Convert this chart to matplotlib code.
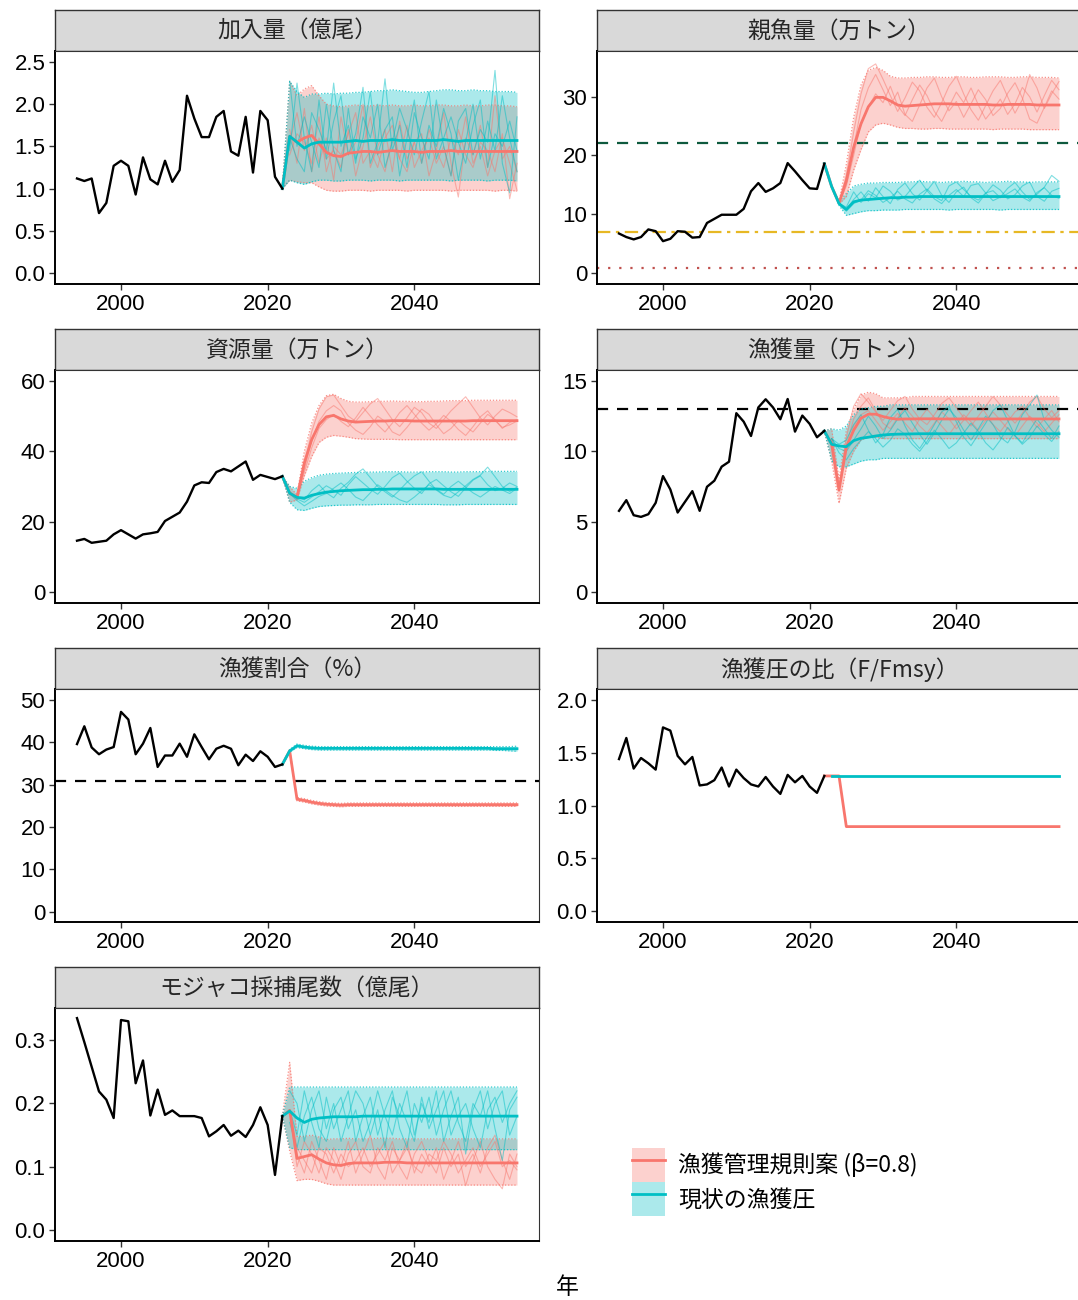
import numpy as np
import matplotlib
matplotlib.use('Agg')
import matplotlib.pyplot as plt
from matplotlib.patches import Patch
from matplotlib.lines import Line2D
from matplotlib.legend_handler import HandlerTuple
from matplotlib.ticker import FormatStrFormatter

plt.rcParams['font.family'] = ['Liberation Sans', 'Noto Sans CJK JP']
JP = ['Noto Sans CJK JP', 'DejaVu Sans']

RED = '#F8766D'
CYAN = '#00BFC4'

# ---- historical values (1994-2022) ----
hist_years = np.arange(1994, 2023)
rec_hist = [1.12, 1.09, 1.12, 0.71, 0.83, 1.27, 1.33, 1.27, 0.93, 1.37, 1.11, 1.05, 1.33, 1.08, 1.22,
            2.10, 1.83, 1.61, 1.61, 1.85, 1.92, 1.44, 1.39, 1.85, 1.19, 1.92, 1.81, 1.14, 1.00]
ssb_hist = [6.7, 6.1, 5.7, 6.1, 7.4, 7.1, 5.4, 5.8, 7.1, 7.0, 6.0, 6.1, 8.5, 9.2, 9.9,
            9.9, 9.9, 10.9, 13.9, 15.3, 13.8, 14.4, 15.3, 18.7, 17.3, 15.8, 14.4, 14.3, 18.6]
bio_hist = [14.6, 15.1, 14.0, 14.3, 14.6, 16.4, 17.6, 16.4, 15.2, 16.4, 16.7, 17.1, 20.2, 21.4, 22.6,
            25.7, 30.3, 31.2, 31.0, 34.1, 35.0, 34.3, 35.7, 37.1, 31.9, 33.3, 32.7, 32.1, 32.9]
catch_hist = [5.77, 6.53, 5.46, 5.34, 5.53, 6.34, 8.24, 7.29, 5.65, 6.41, 7.17, 5.77, 7.48, 7.91, 8.91,
              9.26, 12.71, 12.11, 11.09, 13.12, 13.70, 13.12, 12.28, 13.72, 11.40, 12.54, 11.95, 11.00, 11.45]
rate_hist = [39.6, 43.8, 38.8, 37.2, 38.3, 38.9, 47.2, 45.4, 37.2, 39.7, 43.4, 34.2, 36.9, 36.9, 39.7,
             36.6, 41.9, 38.9, 36.0, 38.5, 39.2, 38.5, 34.6, 37.1, 35.6, 37.9, 36.6, 34.2, 34.8]
f_hist = [1.44, 1.64, 1.35, 1.45, 1.40, 1.34, 1.74, 1.71, 1.47, 1.39, 1.46, 1.19, 1.20, 1.24, 1.36,
          1.18, 1.34, 1.26, 1.20, 1.18, 1.27, 1.18, 1.11, 1.29, 1.22, 1.28, 1.18, 1.12, 1.28]
moj_hist = [0.335, 0.297, 0.258, 0.219, 0.206, 0.177, 0.332, 0.330, 0.232, 0.268, 0.181, 0.222, 0.182, 0.189, 0.180,
            0.180, 0.180, 0.177, 0.148, 0.156, 0.166, 0.149, 0.157, 0.147, 0.166, 0.194, 0.166, 0.087, 0.180]

# ---- projections: median / lower / upper, 2022-2054 ----
# 加入量
rec_cur_med = [1.00, 1.62, 1.55, 1.48, 1.53, 1.55, 1.55, 1.55, 1.55, 1.56,
               1.57, 1.56, 1.57, 1.57, 1.57, 1.58, 1.57, 1.57, 1.57, 1.57,
               1.57, 1.57, 1.58, 1.57, 1.56, 1.57, 1.57, 1.57, 1.57, 1.57,
               1.57, 1.57, 1.57]
rec_cur_hi = [1.00, 2.27, 2.15, 2.08, 2.12, 2.12, 2.13, 2.12, 2.13, 2.13,
              2.14, 2.14, 2.15, 2.16, 2.16, 2.17, 2.16, 2.15, 2.14, 2.14,
              2.15, 2.16, 2.17, 2.17, 2.16, 2.16, 2.17, 2.16, 2.16, 2.15,
              2.15, 2.15, 2.14]
rec_cur_lo = [1.00, 1.10, 1.07, 1.05, 1.08, 1.10, 1.10, 1.09, 1.09, 1.10,
              1.10, 1.10, 1.09, 1.10, 1.10, 1.10, 1.09, 1.10, 1.10, 1.10,
              1.10, 1.10, 1.10, 1.09, 1.10, 1.10, 1.10, 1.10, 1.09, 1.10,
              1.10, 1.10, 1.09]
rec_rule_med = [1.00, 1.62, 1.55, 1.60, 1.63, 1.53, 1.43, 1.39, 1.38, 1.42,
                1.43, 1.44, 1.44, 1.43, 1.44, 1.45, 1.44, 1.44, 1.44, 1.43,
                1.44, 1.44, 1.44, 1.45, 1.44, 1.44, 1.44, 1.44, 1.44, 1.44,
                1.44, 1.44, 1.44]
rec_rule_hi = [1.00, 2.27, 2.10, 2.18, 2.22, 2.10, 2.00, 1.98, 1.97, 1.98,
               1.99, 1.98, 1.98, 1.99, 1.98, 1.99, 1.98, 1.98, 1.99, 1.98,
               1.98, 1.99, 1.99, 1.98, 1.98, 1.99, 1.98, 1.98, 1.99, 1.99,
               1.98, 1.98, 1.97]
rec_rule_lo = [1.00, 1.10, 1.08, 1.07, 1.07, 1.02, 0.98, 0.97, 0.97, 0.98,
               0.98, 0.98, 0.97, 0.98, 0.98, 0.98, 0.98, 0.97, 0.98, 0.98,
               0.98, 0.98, 0.98, 0.97, 0.98, 0.98, 0.98, 0.98, 0.98, 0.97,
               0.98, 0.98, 0.97]

# 親魚量
ssb_cur_med = [18.6, 14.7, 11.8, 10.8, 12.1, 12.4, 12.5, 12.6, 12.7, 12.8,
               12.8, 12.9, 12.9, 13.0, 13.0, 13.0, 13.0, 13.0, 13.0, 13.0,
               13.0, 13.0, 13.0, 13.0, 13.0, 13.0, 13.0, 13.0, 13.0, 13.0,
               13.0, 13.0, 13.0]
ssb_cur_hi = [18.6, 14.8, 12.2, 13.5, 14.8, 15.1, 15.3, 15.3, 15.4, 15.4,
              15.4, 15.5, 15.5, 15.6, 15.5, 15.5, 15.4, 15.5, 15.5, 15.6,
              15.5, 15.5, 15.4, 15.5, 15.5, 15.6, 15.5, 15.5, 15.4, 15.5,
              15.5, 15.5, 15.5]
ssb_cur_lo = [18.6, 14.6, 11.5, 9.8, 10.1, 10.4, 10.6, 10.6, 10.7, 10.7,
              10.7, 10.8, 10.8, 10.8, 10.8, 10.8, 10.8, 10.7, 10.8, 10.8,
              10.8, 10.8, 10.8, 10.8, 10.7, 10.8, 10.8, 10.8, 10.8, 10.8,
              10.8, 10.8, 10.8]
ssb_rule_med = [18.6, 14.7, 11.9, 15.7, 21.4, 25.4, 28.3, 29.9, 29.9, 29.3,
                28.6, 28.4, 28.5, 28.6, 28.7, 28.8, 28.8, 28.8, 28.7, 28.7,
                28.7, 28.7, 28.7, 28.6, 28.6, 28.7, 28.7, 28.7, 28.7, 28.6,
                28.6, 28.6, 28.6]
ssb_rule_hi = [18.6, 14.8, 12.1, 18.5, 26.5, 32.0, 34.5, 35.0, 34.5, 33.5,
               33.2, 33.2, 33.3, 33.3, 33.4, 33.4, 33.3, 33.3, 33.4, 33.4,
               33.3, 33.3, 33.4, 33.4, 33.4, 33.3, 33.3, 33.4, 33.4, 33.3,
               33.3, 33.3, 33.2]
ssb_rule_lo = [18.6, 14.6, 11.7, 13.0, 17.5, 21.0, 24.0, 25.2, 25.5, 25.2,
               24.8, 24.6, 24.6, 24.5, 24.5, 24.6, 24.6, 24.5, 24.5, 24.5,
               24.5, 24.5, 24.5, 24.4, 24.5, 24.5, 24.5, 24.5, 24.4, 24.4,
               24.4, 24.4, 24.4]

# 資源量
bio_cur_med = [32.9, 28.1, 26.9, 26.7, 27.5, 28.0, 28.4, 28.6, 28.8, 28.9,
               29.0, 29.1, 29.1, 29.2, 29.2, 29.3, 29.3, 29.3, 29.3, 29.3,
               29.3, 29.3, 29.2, 29.2, 29.2, 29.2, 29.2, 29.2, 29.2, 29.2,
               29.2, 29.2, 29.2]
bio_cur_hi = [32.9, 30.0, 29.5, 31.5, 32.5, 33.2, 33.5, 33.7, 33.8, 33.9,
              34.0, 34.0, 34.1, 34.1, 34.2, 34.2, 34.2, 34.1, 34.1, 34.1,
              34.2, 34.2, 34.2, 34.1, 34.1, 34.2, 34.2, 34.2, 34.3, 34.3,
              34.3, 34.3, 34.3]
bio_cur_lo = [32.9, 25.5, 23.4, 23.2, 23.8, 24.3, 24.5, 24.6, 24.7, 24.7,
              24.8, 24.8, 24.8, 24.9, 24.9, 24.9, 24.9, 24.9, 24.9, 24.9,
              24.9, 24.9, 24.8, 24.8, 24.8, 24.9, 24.9, 24.9, 24.9, 24.9,
              24.9, 24.9, 24.9]
bio_rule_med = [32.9, 28.1, 26.9, 36.7, 43.3, 47.6, 49.8, 50.2, 49.2, 48.6,
                48.3, 48.4, 48.5, 48.6, 48.6, 48.7, 48.7, 48.7, 48.6, 48.6,
                48.6, 48.6, 48.6, 48.6, 48.6, 48.6, 48.7, 48.7, 48.7, 48.7,
                48.7, 48.7, 48.7]
bio_rule_hi = [32.9, 30.0, 27.6, 40.0, 48.0, 53.0, 55.8, 56.2, 55.0, 54.2,
               54.0, 54.0, 54.1, 54.2, 54.2, 54.3, 54.2, 54.2, 54.1, 54.1,
               54.2, 54.2, 54.3, 54.4, 54.4, 54.4, 54.5, 54.5, 54.5, 54.5,
               54.5, 54.5, 54.5]
bio_rule_lo = [32.9, 25.5, 26.2, 33.0, 38.5, 42.5, 44.0, 44.5, 44.3, 44.0,
               43.6, 43.5, 43.4, 43.4, 43.4, 43.4, 43.3, 43.3, 43.3, 43.3,
               43.3, 43.3, 43.3, 43.3, 43.3, 43.3, 43.3, 43.3, 43.3, 43.3,
               43.3, 43.3, 43.3]

# 漁獲量
catch_cur_med = [11.45, 10.50, 10.38, 10.33, 10.76, 10.93, 11.00, 11.09, 11.16, 11.20,
                 11.22, 11.23, 11.24, 11.25, 11.25, 11.25, 11.25, 11.25, 11.25, 11.25,
                 11.25, 11.25, 11.25, 11.25, 11.25, 11.25, 11.25, 11.25, 11.25, 11.25,
                 11.25, 11.25, 11.25]
catch_cur_hi = [11.45, 11.6, 11.5, 11.8, 12.6, 13.0, 13.1, 13.2, 13.2, 13.3,
                13.3, 13.3, 13.3, 13.3, 13.3, 13.3, 13.3, 13.3, 13.3, 13.3,
                13.3, 13.3, 13.3, 13.3, 13.3, 13.3, 13.3, 13.3, 13.3, 13.3,
                13.3, 13.3, 13.3]
catch_cur_lo = [11.45, 9.3, 8.9, 8.9, 9.1, 9.3, 9.4, 9.4, 9.5, 9.5,
                9.5, 9.5, 9.5, 9.5, 9.5, 9.5, 9.5, 9.5, 9.5, 9.5,
                9.5, 9.5, 9.5, 9.5, 9.5, 9.5, 9.5, 9.5, 9.5, 9.5,
                9.5, 9.5, 9.5]
catch_rule_med = [11.45, 10.50, 7.24, 10.30, 11.50, 12.35, 12.64, 12.64, 12.47, 12.35,
                  12.28, 12.30, 12.30, 12.31, 12.31, 12.31, 12.30, 12.30, 12.30, 12.30,
                  12.30, 12.30, 12.30, 12.30, 12.30, 12.30, 12.30, 12.30, 12.30, 12.30,
                  12.30, 12.30, 12.30]
catch_rule_hi = [11.45, 11.6, 8.0, 11.5, 13.0, 14.0, 14.2, 14.1, 13.8, 13.8,
                 13.8, 13.8, 13.9, 13.9, 13.9, 13.9, 13.9, 13.9, 13.9, 13.9,
                 13.9, 13.9, 13.9, 13.9, 13.9, 13.9, 13.9, 13.9, 13.9, 13.9,
                 13.9, 13.9, 13.9]
catch_rule_lo = [11.45, 9.3, 6.3, 8.8, 10.0, 10.8, 11.0, 11.0, 10.9, 10.9,
                 10.9, 10.9, 10.9, 10.9, 10.9, 10.9, 10.9, 10.9, 10.9, 10.9,
                 10.9, 10.9, 10.9, 10.9, 10.9, 10.9, 10.9, 10.9, 10.9, 10.9,
                 10.9, 10.9, 10.9]

# 漁獲割合
rate_cur_med = [34.8, 38.0, 39.2, 38.9, 38.7, 38.6, 38.6, 38.6, 38.6, 38.6,
                38.6, 38.6, 38.6, 38.6, 38.6, 38.6, 38.6, 38.6, 38.6, 38.6,
                38.6, 38.6, 38.6, 38.6, 38.6, 38.6, 38.6, 38.6, 38.6, 38.5,
                38.5, 38.5, 38.5]
rate_cur_hi = [34.8, 38.3, 39.6, 39.3, 39.1, 39.0, 39.0, 39.0, 39.0, 39.0,
               39.0, 39.0, 39.0, 39.0, 39.0, 39.0, 39.0, 39.0, 39.0, 39.0,
               39.0, 39.0, 39.0, 39.0, 39.0, 39.0, 39.0, 39.0, 39.0, 39.0,
               39.0, 39.0, 39.1]
rate_cur_lo = [34.8, 37.7, 38.8, 38.5, 38.3, 38.2, 38.2, 38.2, 38.2, 38.2,
               38.2, 38.2, 38.2, 38.2, 38.2, 38.2, 38.2, 38.2, 38.2, 38.2,
               38.2, 38.2, 38.2, 38.2, 38.2, 38.2, 38.2, 38.2, 38.2, 38.1,
               38.1, 38.0, 37.9]
rate_rule_med = [34.8, 38.0, 26.6, 26.3, 25.9, 25.6, 25.4, 25.3, 25.2, 25.3,
                 25.3, 25.3, 25.3, 25.3, 25.3, 25.3, 25.3, 25.3, 25.3, 25.3,
                 25.3, 25.3, 25.3, 25.3, 25.3, 25.3, 25.3, 25.3, 25.3, 25.3,
                 25.3, 25.3, 25.3]
rate_rule_hi = [34.8, 38.3, 27.0, 26.7, 26.3, 26.0, 25.8, 25.7, 25.6, 25.7,
                25.7, 25.7, 25.7, 25.7, 25.7, 25.7, 25.7, 25.7, 25.7, 25.7,
                25.7, 25.7, 25.7, 25.7, 25.7, 25.7, 25.7, 25.7, 25.7, 25.7,
                25.7, 25.7, 25.7]
rate_rule_lo = [34.8, 37.7, 26.2, 25.9, 25.5, 25.2, 25.0, 24.9, 24.8, 24.9,
                24.9, 24.9, 24.9, 24.9, 24.9, 24.9, 24.9, 24.9, 24.9, 24.9,
                24.9, 24.9, 24.9, 24.9, 24.9, 24.9, 24.9, 24.9, 24.9, 24.9,
                24.9, 24.9, 24.9]

# 漁獲圧の比 (current from 2023, rule from 2022)
f_cur = [1.28] * 32
f_rule = [1.28, 1.28, 1.28] + [0.80] * 30

# モジャコ採捕尾数
moj_cur_med = [0.180, 0.188, 0.177, 0.170, 0.175, 0.177, 0.178, 0.179, 0.179, 0.179,
               0.179, 0.180, 0.180, 0.180, 0.180, 0.180, 0.180, 0.180, 0.180, 0.180,
               0.180, 0.180, 0.180, 0.180, 0.180, 0.180, 0.180, 0.180, 0.180, 0.180,
               0.180, 0.180, 0.180]
moj_cur_hi = [0.180, 0.226, 0.226, 0.226, 0.226, 0.226, 0.226, 0.226, 0.226, 0.226,
              0.226, 0.226, 0.226, 0.226, 0.226, 0.226, 0.226, 0.226, 0.226, 0.226,
              0.226, 0.226, 0.226, 0.226, 0.226, 0.226, 0.226, 0.226, 0.226, 0.226,
              0.226, 0.226, 0.226]
moj_cur_lo = [0.180, 0.130, 0.127, 0.127, 0.127, 0.127, 0.127, 0.127, 0.127, 0.127,
              0.127, 0.127, 0.127, 0.127, 0.127, 0.127, 0.127, 0.127, 0.127, 0.127,
              0.127, 0.127, 0.127, 0.127, 0.127, 0.127, 0.127, 0.127, 0.127, 0.127,
              0.127, 0.127, 0.127]
moj_rule_med = [0.180, 0.189, 0.113, 0.116, 0.119, 0.112, 0.106, 0.103, 0.102, 0.105,
                0.106, 0.106, 0.106, 0.106, 0.107, 0.107, 0.107, 0.106, 0.106, 0.106,
                0.106, 0.106, 0.106, 0.106, 0.106, 0.106, 0.106, 0.106, 0.106, 0.106,
                0.106, 0.106, 0.106]
moj_rule_hi = [0.180, 0.265, 0.148, 0.148, 0.150, 0.147, 0.143, 0.144, 0.144, 0.145,
               0.144, 0.144, 0.144, 0.145, 0.145, 0.145, 0.144, 0.144, 0.144, 0.144,
               0.144, 0.144, 0.144, 0.144, 0.144, 0.144, 0.144, 0.144, 0.144, 0.144,
               0.144, 0.144, 0.144]
moj_rule_lo = [0.180, 0.125, 0.078, 0.080, 0.080, 0.077, 0.073, 0.071, 0.071, 0.071,
               0.071, 0.071, 0.071, 0.071, 0.071, 0.071, 0.071, 0.071, 0.071, 0.071,
               0.071, 0.071, 0.071, 0.071, 0.071, 0.071, 0.071, 0.071, 0.071, 0.071,
               0.071, 0.071, 0.071]

# ---- a few individual simulation runs, 2023-2054 ----
rec_cur_sims = [
    [1.45, 2.25, 1.60, 1.20, 2.05, 1.35, 1.80, 2.10, 1.40, 1.65, 2.20, 1.30, 1.55, 2.30, 1.45, 1.75,
     1.25, 1.90, 1.60, 1.35, 2.05, 1.50, 1.15, 1.80, 1.95, 1.40, 1.70, 1.55, 2.40, 1.30, 0.95, 1.85],
    [2.27, 1.50, 1.85, 1.55, 1.25, 2.00, 1.45, 1.20, 1.95, 1.35, 1.60, 2.15, 1.40, 1.70, 1.85, 1.15,
     1.60, 2.05, 1.30, 1.75, 1.50, 1.95, 1.65, 1.10, 1.55, 2.00, 1.35, 1.80, 1.45, 2.10, 1.60, 1.20],
    [1.60, 1.35, 1.20, 1.90, 1.70, 1.45, 2.25, 1.50, 1.75, 1.30, 1.85, 1.60, 2.00, 1.25, 1.55, 1.95,
     1.70, 1.40, 1.80, 2.15, 1.35, 1.60, 1.85, 1.55, 1.30, 1.75, 2.05, 1.25, 1.65, 1.50, 1.80, 1.45],
]
rec_rule_sims = [
    [1.55, 1.90, 1.45, 1.75, 1.30, 1.60, 1.10, 1.85, 1.40, 1.55, 2.00, 1.25, 1.50, 1.70, 1.20, 1.80,
     1.35, 1.55, 1.65, 1.15, 1.45, 1.90, 1.30, 0.90, 1.60, 1.40, 1.75, 1.25, 2.10, 1.35, 1.50, 1.20],
    [1.70, 1.30, 1.95, 1.20, 1.60, 1.35, 1.45, 1.25, 1.70, 1.15, 1.50, 1.85, 1.40, 1.20, 1.60, 1.35,
     1.75, 1.25, 1.45, 1.60, 1.30, 1.50, 1.15, 1.70, 1.40, 1.25, 1.55, 1.45, 1.20, 1.65, 0.88, 1.30],
    [1.40, 1.65, 1.55, 1.30, 1.85, 1.20, 1.50, 1.40, 1.65, 1.90, 1.30, 1.45, 1.25, 1.60, 1.75, 1.35,
     1.20, 1.55, 1.30, 1.70, 1.45, 1.25, 1.60, 1.40, 1.85, 1.30, 1.50, 1.15, 1.45, 1.60, 1.30, 0.98],
]
ssb_cur_sims = [
    [14.7, 11.9, 10.8, 12.5, 13.8, 12.2, 14.5, 13.0, 11.8, 14.2, 15.3, 13.5, 12.4, 14.0, 15.6, 13.2,
     12.0, 13.8, 14.6, 12.8, 11.9, 13.5, 15.0, 14.1, 12.6, 13.3, 14.8, 15.5, 13.0, 12.2, 13.9, 14.4],
    [14.7, 11.8, 11.2, 13.8, 12.0, 13.5, 12.8, 14.8, 13.9, 12.4, 13.0, 14.5, 15.8, 14.0, 12.6, 11.8,
     13.2, 14.2, 13.0, 14.9, 15.2, 13.6, 12.3, 12.9, 14.4, 15.4, 13.8, 12.5, 13.4, 14.6, 16.6, 15.6],
    [14.7, 11.7, 10.5, 11.8, 12.4, 14.0, 13.2, 12.0, 12.8, 13.9, 12.6, 11.9, 13.4, 14.3, 13.0, 12.3,
     14.8, 15.5, 14.2, 13.0, 12.4, 13.6, 14.0, 12.8, 13.5, 14.3, 12.9, 12.2, 13.7, 14.5, 13.2, 12.7],
]
ssb_rule_sims = [
    [14.7, 11.9, 16.5, 24.0, 30.5, 34.8, 35.6, 33.0, 30.2, 27.5, 29.8, 32.5, 31.0, 28.2, 26.5, 29.0,
     31.8, 33.5, 30.5, 27.8, 26.0, 28.5, 31.0, 32.8, 30.0, 27.2, 29.5, 33.8, 31.5, 28.0, 30.5, 32.6],
    [14.7, 11.8, 15.2, 21.5, 27.8, 31.5, 33.8, 31.2, 28.5, 30.8, 27.0, 25.8, 28.6, 31.5, 33.2, 30.0,
     27.6, 29.2, 26.5, 28.8, 31.2, 29.5, 26.8, 28.0, 30.6, 32.4, 29.8, 26.2, 25.5, 28.2, 31.0, 29.6],
    [14.7, 11.8, 14.8, 20.0, 25.5, 28.2, 30.5, 29.0, 31.8, 28.5, 26.8, 29.5, 32.0, 30.2, 27.5, 25.8,
     28.3, 30.8, 29.0, 31.5, 28.6, 26.2, 27.8, 29.6, 27.0, 28.8, 31.6, 30.0, 27.4, 30.2, 32.8, 31.2],
]
bio_cur_sims = [
    [28.0, 26.5, 25.5, 27.0, 28.5, 30.2, 29.0, 27.5, 30.5, 32.8, 31.0, 29.2, 27.8, 30.0, 32.5, 33.8,
     31.5, 29.5, 28.0, 30.8, 32.0, 30.2, 28.5, 27.2, 29.6, 31.8, 33.0, 30.5, 28.8, 29.5, 31.0, 30.0],
    [28.0, 27.0, 26.2, 28.8, 30.5, 28.2, 26.8, 29.5, 31.2, 33.5, 35.0, 32.5, 30.0, 28.5, 27.0, 29.0,
     31.2, 33.0, 34.2, 31.5, 29.0, 27.5, 26.8, 28.5, 30.2, 32.0, 33.2, 35.5, 32.8, 30.0, 28.6, 29.8],
    [28.0, 26.0, 24.5, 25.8, 27.2, 28.0, 29.5, 31.0, 29.2, 27.0, 26.0, 28.2, 30.5, 29.0, 27.5, 26.2,
     25.5, 27.0, 28.8, 30.5, 29.2, 27.8, 30.0, 31.5, 29.8, 28.2, 27.0, 28.5, 30.0, 29.0, 28.0, 29.5],
]
bio_rule_sims = [
    [28.5, 27.0, 36.0, 45.5, 52.0, 55.5, 56.0, 53.0, 50.0, 48.5, 51.0, 53.5, 55.0, 52.0, 49.0, 47.0,
     49.5, 52.5, 51.0, 48.0, 46.5, 49.0, 51.5, 53.5, 55.5, 52.5, 49.5, 47.5, 50.0, 52.0, 51.0, 49.8],
    [28.5, 26.8, 35.0, 43.0, 48.5, 51.5, 53.0, 51.5, 48.0, 46.0, 44.8, 47.0, 50.0, 48.5, 45.5, 44.5,
     46.8, 49.5, 52.0, 50.5, 47.5, 45.0, 46.5, 48.8, 47.0, 45.5, 48.0, 50.5, 49.0, 46.5, 48.2, 49.0],
    [28.5, 26.6, 34.0, 41.0, 46.5, 49.0, 50.5, 48.5, 47.0, 49.5, 52.5, 50.0, 47.5, 45.5, 48.0, 51.0,
     53.0, 50.5, 48.0, 46.0, 47.8, 50.2, 48.5, 46.2, 44.5, 47.0, 49.8, 51.5, 48.8, 46.8, 47.5, 48.6],
]
catch_cur_sims = [
    [10.9, 10.2, 10.0, 10.8, 11.6, 12.5, 11.8, 10.9, 11.5, 12.3, 12.9, 12.0, 11.2, 10.5, 11.3, 12.2,
     13.0, 12.4, 11.5, 10.8, 11.6, 12.5, 11.9, 11.0, 10.6, 11.4, 12.6, 13.3, 14.0, 12.2, 11.5, 11.0],
    [10.9, 10.5, 10.8, 11.9, 12.6, 11.5, 10.6, 11.2, 12.4, 13.0, 11.8, 10.8, 10.2, 11.0, 11.9, 12.8,
     13.2, 12.1, 11.0, 10.4, 11.2, 12.0, 12.9, 13.3, 12.2, 11.1, 10.6, 11.5, 12.3, 11.6, 10.9, 11.8],
    [10.9, 9.9, 9.4, 10.2, 10.8, 11.4, 10.9, 10.3, 10.8, 11.6, 11.2, 10.5, 10.0, 10.7, 11.5, 10.9,
     10.2, 10.6, 11.3, 12.0, 11.4, 10.6, 10.1, 10.8, 11.7, 11.1, 10.5, 11.0, 11.8, 11.2, 10.7, 11.4],
]
catch_rule_sims = [
    [10.9, 7.3, 11.0, 13.2, 14.1, 13.5, 12.8, 12.2, 12.9, 13.6, 13.9, 13.0, 12.3, 11.9, 12.6, 13.4,
     13.8, 13.1, 12.4, 11.8, 12.5, 13.2, 13.9, 13.3, 12.6, 12.0, 12.7, 13.5, 13.9, 13.0, 12.4, 12.9],
    [10.9, 7.2, 10.4, 12.3, 13.2, 13.8, 12.9, 12.0, 11.6, 12.4, 13.1, 12.5, 11.8, 11.3, 12.0, 12.8,
     12.3, 11.6, 12.2, 12.9, 13.5, 12.7, 11.9, 11.4, 12.1, 12.8, 13.2, 12.4, 11.7, 12.3, 12.9, 12.1],
    [10.9, 7.4, 10.0, 11.8, 12.6, 12.9, 12.2, 11.5, 12.1, 12.7, 12.0, 11.4, 12.3, 13.0, 12.4, 11.8,
     11.2, 11.9, 12.6, 12.1, 11.5, 12.2, 12.8, 12.2, 11.6, 11.1, 11.8, 12.5, 12.0, 11.4, 12.0, 12.6],
]
moj_cur_sims = [
    [0.19, 0.15, 0.22, 0.17, 0.13, 0.21, 0.16, 0.19, 0.22, 0.14, 0.18, 0.21, 0.15, 0.19, 0.22, 0.16,
     0.13, 0.20, 0.17, 0.21, 0.15, 0.19, 0.22, 0.17, 0.14, 0.20, 0.18, 0.22, 0.16, 0.11, 0.19, 0.21],
    [0.22, 0.20, 0.14, 0.19, 0.22, 0.16, 0.20, 0.14, 0.18, 0.22, 0.20, 0.15, 0.19, 0.13, 0.21, 0.18,
     0.22, 0.15, 0.20, 0.17, 0.22, 0.14, 0.18, 0.21, 0.12, 0.19, 0.22, 0.16, 0.20, 0.22, 0.15, 0.18],
    [0.17, 0.13, 0.18, 0.21, 0.16, 0.14, 0.19, 0.21, 0.16, 0.19, 0.14, 0.17, 0.22, 0.18, 0.15, 0.20,
     0.17, 0.14, 0.21, 0.16, 0.19, 0.22, 0.15, 0.18, 0.20, 0.16, 0.13, 0.19, 0.21, 0.17, 0.20, 0.22],
]
moj_rule_sims = [
    [0.19, 0.12, 0.09, 0.14, 0.11, 0.08, 0.13, 0.10, 0.14, 0.09, 0.12, 0.15, 0.10, 0.08, 0.13, 0.11,
     0.14, 0.09, 0.12, 0.10, 0.13, 0.08, 0.11, 0.14, 0.10, 0.12, 0.09, 0.13, 0.15, 0.11, 0.08, 0.12],
    [0.19, 0.10, 0.14, 0.12, 0.09, 0.13, 0.11, 0.08, 0.12, 0.14, 0.10, 0.09, 0.13, 0.11, 0.14, 0.10,
     0.08, 0.12, 0.14, 0.11, 0.09, 0.13, 0.10, 0.12, 0.07, 0.11, 0.14, 0.10, 0.08, 0.065, 0.12, 0.10],
    [0.19, 0.13, 0.11, 0.09, 0.13, 0.12, 0.09, 0.12, 0.10, 0.11, 0.13, 0.10, 0.12, 0.14, 0.09, 0.11,
     0.13, 0.10, 0.09, 0.12, 0.11, 0.14, 0.12, 0.09, 0.11, 0.13, 0.10, 0.12, 0.14, 0.10, 0.11, 0.095],
]

# ---- figure layout (pixel boxes of the reference) ----
W, H = 1078, 1300
fig = plt.figure(figsize=(W / 100, H / 100), dpi=100)

col_x = [55, 597]
row_y = [51, 370, 689, 1008]
pw, ph, sh = 484, 233, 41


def make_panel(col, row, title):
    x0, y0 = col_x[col], row_y[row]
    st = fig.add_axes([x0 / W, 1 - y0 / H, pw / W, sh / H])
    st.set_facecolor('#D9D9D9')
    st.set_xticks([])
    st.set_yticks([])
    for s in st.spines.values():
        s.set_color('#333333')
        s.set_linewidth(1.0)
    st.text(0.5, 0.48, title, ha='center', va='center', fontsize=16.5,
            color='#262626', family=JP, transform=st.transAxes)
    ax = fig.add_axes([x0 / W, 1 - (y0 + ph) / H, pw / W, ph / H])
    ax.set_xlim(1991, 2057)
    ax.set_xticks([2000, 2020, 2040])
    for side in ['left', 'bottom']:
        ax.spines[side].set_linewidth(1.4)
        ax.spines[side].set_color('black')
    for side in ['top', 'right']:
        ax.spines[side].set_linewidth(0.8)
        ax.spines[side].set_color('#333333')
    ax.tick_params(labelsize=16, length=4, width=1.0, color='#333333', pad=3, labelcolor='black')
    return ax


def draw(ax, hist, cur, rule, cur_sims=(), rule_sims=()):
    bands = [(rule, RED), (cur, CYAN)]
    for (med, lo, hi), c in bands:
        n = min(len(lo), len(hi))
        yrs = np.arange(2022, 2022 + n)
        ax.fill_between(yrs, lo[:n], hi[:n], color=c, alpha=0.33, lw=0)
        ax.plot(yrs, lo[:n], color=c, lw=0.9, ls=(0, (1, 1.5)), alpha=0.8)
        ax.plot(yrs, hi[:n], color=c, lw=0.9, ls=(0, (1, 1.5)), alpha=0.8)
    for sims, c in [(rule_sims, RED), (cur_sims, CYAN)]:
        for s in sims:
            ax.plot(np.arange(2023, 2023 + len(s)), s, color=c, lw=0.8, alpha=0.5)
    for (med, lo, hi), c in bands:
        ax.plot(np.arange(2022, 2022 + len(med)), med, color=c, lw=2.0)
    ax.plot(hist_years, hist, color='black', lw=1.7)


# 加入量
ax = make_panel(0, 0, '加入量（億尾）')
draw(ax, rec_hist, (rec_cur_med, rec_cur_lo, rec_cur_hi), (rec_rule_med, rec_rule_lo, rec_rule_hi),
     rec_cur_sims, rec_rule_sims)
ax.set_ylim(-0.13, 2.63)
ax.set_yticks([0, 0.5, 1.0, 1.5, 2.0, 2.5])
ax.yaxis.set_major_formatter(FormatStrFormatter('%.1f'))

# 親魚量
ax = make_panel(1, 0, '親魚量（万トン）')
ax.axhline(22.2, color='#0E5A3E', lw=1.6, ls=(0, (5, 4)))
ax.axhline(6.95, color='#E7B824', lw=1.6, ls=(0, (6, 2.5, 1.5, 2.5)))
ax.axhline(0.85, color='#C0504D', lw=1.6, ls=(0, (1, 4)))
draw(ax, ssb_hist, (ssb_cur_med, ssb_cur_lo, ssb_cur_hi), (ssb_rule_med, ssb_rule_lo, ssb_rule_hi),
     ssb_cur_sims, ssb_rule_sims)
ax.set_ylim(-1.9, 37.8)
ax.set_yticks([0, 10, 20, 30])

# 資源量
ax = make_panel(0, 1, '資源量（万トン）')
draw(ax, bio_hist, (bio_cur_med, bio_cur_lo, bio_cur_hi), (bio_rule_med, bio_rule_lo, bio_rule_hi),
     bio_cur_sims, bio_rule_sims)
ax.set_ylim(-3.1, 63.1)
ax.set_yticks([0, 20, 40, 60])

# 漁獲量
ax = make_panel(1, 1, '漁獲量（万トン）')
ax.axhline(13.0, color='black', lw=1.6, ls=(0, (5, 4)))
draw(ax, catch_hist, (catch_cur_med, catch_cur_lo, catch_cur_hi),
     (catch_rule_med, catch_rule_lo, catch_rule_hi), catch_cur_sims, catch_rule_sims)
ax.set_ylim(-0.78, 15.78)
ax.set_yticks([0, 5, 10, 15])

# 漁獲割合
ax = make_panel(0, 2, '漁獲割合（%）')
ax.axhline(31.0, color='black', lw=1.6, ls=(0, (5, 4)))
draw(ax, rate_hist, (rate_cur_med, rate_cur_lo, rate_cur_hi), (rate_rule_med, rate_rule_lo, rate_rule_hi))
ax.set_ylim(-2.4, 52.6)
ax.set_yticks([0, 10, 20, 30, 40, 50])

# 漁獲圧の比
ax = make_panel(1, 2, '漁獲圧の比（F/Fmsy）')
ax.plot(np.arange(2022, 2022 + len(f_rule)), f_rule, color=RED, lw=2.0)
ax.plot(np.arange(2023, 2023 + len(f_cur)), f_cur, color=CYAN, lw=2.0)
ax.plot(hist_years, f_hist, color='black', lw=1.7)
ax.set_ylim(-0.104, 2.104)
ax.set_yticks([0, 0.5, 1.0, 1.5, 2.0])
ax.yaxis.set_major_formatter(FormatStrFormatter('%.1f'))

# モジャコ採捕尾数
ax = make_panel(0, 3, 'モジャコ採捕尾数（億尾）')
draw(ax, moj_hist, (moj_cur_med, moj_cur_lo, moj_cur_hi), (moj_rule_med, moj_rule_lo, moj_rule_hi),
     moj_cur_sims, moj_rule_sims)
ax.set_ylim(-0.0175, 0.351)
ax.set_yticks([0, 0.1, 0.2, 0.3])
ax.yaxis.set_major_formatter(FormatStrFormatter('%.1f'))

fig.text(567 / W, 1 - 1287 / H, '年', ha='center', va='center', fontsize=16.5, family=JP)

handles = [(Patch(facecolor=RED, alpha=0.33, edgecolor='none'), Line2D([], [], color=RED, lw=2.0)),
           (Patch(facecolor=CYAN, alpha=0.33, edgecolor='none'), Line2D([], [], color=CYAN, lw=2.0))]
labels = ['漁獲管理規則案 (β=0.8)', '現状の漁獲圧']
fig.legend(handles, labels, handler_map={tuple: HandlerTuple(ndivide=1)},
           loc='upper left', bbox_to_anchor=(632 / W, 1 - 1148 / H), frameon=False,
           prop={'family': JP, 'size': 16.5}, handlelength=1.45, handleheight=1.9,
           labelspacing=0.0, handletextpad=0.55, borderpad=0, borderaxespad=0)

fig.savefig('out.png', dpi=100)
